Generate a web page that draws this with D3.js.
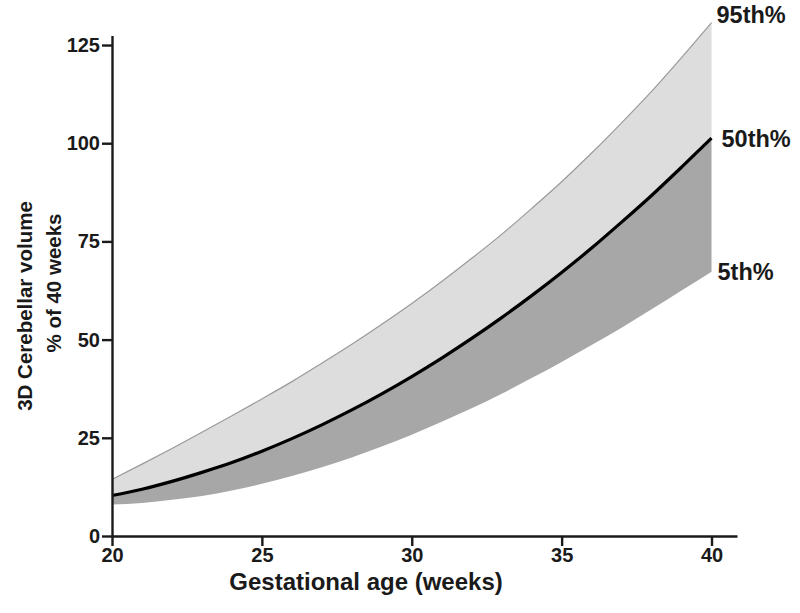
<!DOCTYPE html>
<html>
<head>
<meta charset="utf-8">
<script src="https://cdn.jsdelivr.net/npm/d3@7/dist/d3.min.js"></script>
<style>
  html, body { margin: 0; padding: 0; background: #fff; }
  svg { display: block; font-family: "Liberation Sans", Arial, Helvetica, sans-serif; }
</style>
</head>
<body>
<svg id="chart" width="800" height="613"></svg>
<script>
// Data (gestational week, % of 40-week cerebellar volume)
const weeks = [20,21,22,23,24,25,26,27,28,29,30,31,32,33,34,35,36,37,38,39,40];
const p95 = [14.4,18.3,22.3,26.4,30.6,34.9,39.3,44.0,48.8,53.9,59.2,64.8,70.7,76.8,83.4,90.2,97.5,105.2,113.2,121.8,130.7];
const p50 = [10.3,11.9,13.9,16.2,18.7,21.6,24.8,28.3,32.1,36.2,40.6,45.3,50.3,55.6,61.2,67.1,73.3,79.9,86.7,93.9,101.3];
const p5  = [8.0,8.4,9.2,10.2,11.6,13.3,15.3,17.5,20.0,22.8,25.8,29.1,32.5,36.2,40.2,44.3,48.6,53.0,57.7,62.5,67.3];
const xTicks = [20,25,30,35,40];
const yTicks = [0,25,50,75,100,125];
const seriesLabels = ["95th%","50th%","5th%"];
const xTitle = "Gestational age (weeks)";
const yTitle = ["3D Cerebellar volume","% of 40 weeks"];

const rows = weeks.map((w,i)=>({w, hi:p95[i], mid:p50[i], lo:p5[i]}));

const svg = d3.select("#chart");
const x = d3.scaleLinear().domain([20, 40.85]).range([112, 737]);
const y = d3.scaleLinear().domain([0, 127.4]).range([536, 35.6]);

const curve = d3.curveMonotoneX;

// light band 95th–50th
svg.append("path")
  .datum(rows)
  .attr("fill", "#dddddd")
  .attr("d", d3.area().curve(curve).x(d=>x(d.w)).y0(d=>y(d.mid)).y1(d=>y(d.hi)));
// dark band 50th–5th
svg.append("path")
  .datum(rows)
  .attr("fill", "#a7a7a7")
  .attr("d", d3.area().curve(curve).x(d=>x(d.w)).y0(d=>y(d.lo)).y1(d=>y(d.mid)));
// 95th edge
svg.append("path")
  .datum(rows)
  .attr("fill", "none").attr("stroke", "#9a9a9a").attr("stroke-width", 1.2)
  .attr("d", d3.line().curve(curve).x(d=>x(d.w)).y(d=>y(d.hi)));
// 50th line
svg.append("path")
  .datum(rows)
  .attr("fill", "none").attr("stroke", "#000").attr("stroke-width", 3.2)
  .attr("d", d3.line().curve(curve).x(d=>x(d.w)).y(d=>y(d.mid)));

// axes
const xAxis = svg.append("g").attr("transform", `translate(0,${y(0)})`)
  .call(d3.axisBottom(x).tickValues(xTicks).tickSize(10).tickSizeOuter(0).tickPadding(2));
const yAxis = svg.append("g").attr("transform", `translate(${x(20)},0)`)
  .call(d3.axisLeft(y).tickValues(yTicks).tickSize(10).tickSizeOuter(0).tickPadding(2));
[xAxis, yAxis].forEach(g => {
  g.selectAll("path.domain").attr("stroke", "#1a1a1a").attr("stroke-width", 2.4);
  g.selectAll(".tick line").attr("stroke", "#1a1a1a").attr("stroke-width", 2.4);
  g.selectAll(".tick text").attr("fill", "#1a1a1a")
    .style("font-size", "20px").style("font-weight", "bold")
    .style("font-family", "'Liberation Sans', Arial, sans-serif");
});

// x title
svg.append("text")
  .attr("x", 366).attr("y", 590)
  .attr("text-anchor", "middle")
  .attr("fill", "#1a1a1a")
  .style("font-size", "24px").style("font-weight", "bold")
  .text(xTitle);

// y title (two lines, rotated)
svg.append("text")
  .attr("transform", "translate(32,306) rotate(-90)")
  .attr("text-anchor", "middle")
  .attr("fill", "#1a1a1a")
  .style("font-size", "20.5px").style("font-weight", "bold")
  .text(yTitle[0]);
svg.append("text")
  .attr("transform", "translate(61,283) rotate(-90)")
  .attr("text-anchor", "middle")
  .attr("fill", "#1a1a1a")
  .style("font-size", "20.5px").style("font-weight", "bold")
  .text(yTitle[1]);

// series labels at right
const last = rows[rows.length-1];
const labelY = [last.hi, last.mid, last.lo];
const labelDy = [0, 9, 8];
svg.selectAll("text.slabel")
  .data(seriesLabels)
  .join("text")
  .attr("class", "slabel")
  .attr("x", (d,i)=> x(40) + (i===2 ? 6 : (i===0 ? 5 : 10)))
  .attr("y", (d,i)=> y(labelY[i]) + labelDy[i])
  .attr("fill", "#1a1a1a")
  .style("font-size", "23.5px").style("font-weight", "bold")
  .text(d=>d);
</script>
</body>
</html>
